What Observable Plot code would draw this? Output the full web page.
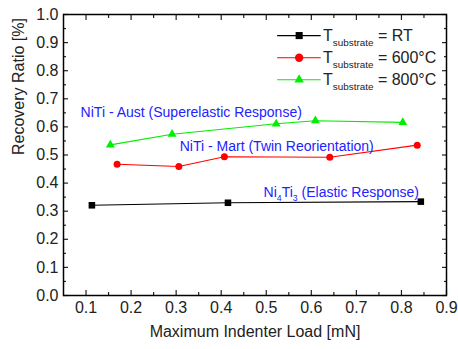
<!DOCTYPE html>
<html>
<head>
<meta charset="utf-8">
<script src="https://cdn.jsdelivr.net/npm/d3@7"></script>
<script src="https://cdn.jsdelivr.net/npm/@observablehq/plot@0.6"></script>
<style>
  body { margin: 0; background: #fff; }
  #chart svg { font-family: "Liberation Sans", Arial, sans-serif; }
  #chart g[aria-label="x-axis tick label"], #chart g[aria-label="y-axis tick label"] { font-size: 16px; }
</style>
</head>
<body>
<div id="chart"></div>
<script>
// Recovery ratio vs. maximum indenter load for three substrate temperatures
const loadRT = [0.113, 0.415, 0.843];
const ratioRT = [0.321, 0.330, 0.334];
const load600 = [0.169, 0.306, 0.407, 0.641, 0.835];
const ratio600 = [0.467, 0.459, 0.494, 0.492, 0.535];
const load800 = [0.154, 0.291, 0.522, 0.609, 0.803];
const ratio800 = [0.536, 0.574, 0.611, 0.622, 0.616];

const seriesNames = ["T_{substrate} = RT", "T_{substrate} = 600°C", "T_{substrate} = 800°C"];
const seriesColors = ["#000000", "#ff0000", "#00ee00"];
const seriesSymbols = ["square", "circle", "triangle"];

const xTicks = [0.1, 0.2, 0.3, 0.4, 0.5, 0.6, 0.7, 0.8, 0.9];
const xMinorTicks = [0.15, 0.25, 0.35, 0.45, 0.55, 0.65, 0.75, 0.85];
const yTicks = [0, 0.1, 0.2, 0.3, 0.4, 0.5, 0.6, 0.7, 0.8, 0.9, 1.0];
const yMinorTicks = [0.05, 0.15, 0.25, 0.35, 0.45, 0.55, 0.65, 0.75, 0.85, 0.95];

// Regime annotations (anchored at their left end, in data units)
const noteTexts = ["NiTi - Aust (Superelastic Response)", "NiTi - Mart (Twin Reorientation)", "Ni_{4}Ti_{3} (Elastic Response)"];
const noteLoads = [0.088, 0.308, 0.494];
const noteRatios = [0.650, 0.530, 0.366];

// Legend layout, in data units
const legendLineLoads = [0.525, 0.620];
const legendMarkerLoad = 0.573;
const legendTextLoad = 0.626;
const legendRatios = [0.925, 0.846, 0.768];

const series = [
  {name: seriesNames[0], load: loadRT, ratio: ratioRT, color: seriesColors[0], symbol: seriesSymbols[0], r: 3.7, lr: 4.0},
  {name: seriesNames[1], load: load600, ratio: ratio600, color: seriesColors[1], symbol: seriesSymbols[1], r: 3.5, lr: 4.2},
  {name: seriesNames[2], load: load800, ratio: ratio800, color: seriesColors[2], symbol: seriesSymbols[2], r: 3.3, lr: 3.5}
];

const notes = noteTexts.map((text, i) => ({text, x: noteLoads[i], y: noteRatios[i]}));

const marks = [
  // tick labels
  Plot.axisX(xTicks, {anchor: "bottom", tickSize: 0, tickPadding: 6, tickFormat: d3.format(".1f"), label: null}),
  Plot.axisY(yTicks, {anchor: "left", tickSize: 0, tickPadding: 5, tickFormat: d3.format(".1f"), label: null}),
  // inward tick marks on all four sides
  Plot.axisX(xTicks, {anchor: "bottom", tickSize: -5, fill: "none", strokeWidth: 1.2}),
  Plot.axisX(xMinorTicks, {anchor: "bottom", tickSize: -3, fill: "none", strokeWidth: 1.2}),
  Plot.axisX(xTicks, {anchor: "top", tickSize: -5, fill: "none", strokeWidth: 1.2}),
  Plot.axisX(xMinorTicks, {anchor: "top", tickSize: -3, fill: "none", strokeWidth: 1.2}),
  Plot.axisY(yTicks, {anchor: "left", tickSize: -5, fill: "none", strokeWidth: 1.2}),
  Plot.axisY(yMinorTicks, {anchor: "left", tickSize: -3, fill: "none", strokeWidth: 1.2}),
  Plot.axisY(yTicks, {anchor: "right", tickSize: -5, fill: "none", strokeWidth: 1.2}),
  Plot.axisY(yMinorTicks, {anchor: "right", tickSize: -3, fill: "none", strokeWidth: 1.2}),
  Plot.frame({stroke: "#000", strokeWidth: 1.5}),
  // axis titles
  Plot.text(["Recovery Ratio [%]"], {frameAnchor: "left", dx: -45, rotate: -90, fontSize: 16, fill: "#222"}),
  Plot.text(["Maximum Indenter Load [mN]"], {frameAnchor: "bottom", dy: 41, fontSize: 16, fill: "#222"})
];

for (const s of series) {
  const pts = s.load.map((x, i) => ({x, y: s.ratio[i]}));
  marks.push(Plot.line(pts, {x: "x", y: "y", stroke: s.color, strokeWidth: 1.1}));
  marks.push(Plot.dot(pts, {x: "x", y: "y", symbol: () => s.symbol, r: s.r, fill: s.color, stroke: "none"}));
}

// regime labels
marks.push(Plot.text(notes, {x: "x", y: "y", text: "text", textAnchor: "start", fill: "#2222ff", fontSize: 14}));

// legend
series.forEach((s, i) => {
  const row = legendRatios[i];
  marks.push(Plot.line(legendLineLoads.map(x => ({x, y: row})), {x: "x", y: "y", stroke: s.color, strokeWidth: 1.1}));
  marks.push(Plot.dot([{x: legendMarkerLoad, y: row}], {x: "x", y: "y", symbol: () => s.symbol, r: s.lr, fill: s.color, stroke: "none"}));
  marks.push(Plot.text([s.name], {x: () => legendTextLoad, y: () => row, textAnchor: "start", fontSize: 16, fill: "#222"}));
});

const chart = Plot.plot({
  width: 458,
  height: 349,
  marginLeft: 63,
  marginRight: 12,
  marginTop: 14,
  marginBottom: 54,
  style: {background: "white", color: "#222", fontFamily: "\"Liberation Sans\", Arial, sans-serif"},
  x: {domain: [0.05, 0.9]},
  y: {domain: [0, 1]},
  symbol: {type: "identity"},
  marks
});

document.getElementById("chart").appendChild(chart);

// Turn "_{...}" runs into subscripts
d3.select(chart).selectAll("text").each(function() {
  const t = this.textContent;
  if (!t.includes("_{")) return;
  const fs = parseFloat(getComputedStyle(this).fontSize) || 14;
  const shift = Math.round(fs * 0.3);
  const el = d3.select(this);
  el.text(null);
  let lowered = false;
  for (const part of t.split(/(_\{[^}]*\})/)) {
    if (!part) continue;
    const m = part.match(/^_\{([^}]*)\}$/);
    if (m) {
      el.append("tspan").attr("dy", lowered ? 0 : shift).attr("font-size", (fs * 0.62).toFixed(1)).text(m[1]);
      lowered = true;
    } else {
      el.append("tspan").attr("dy", lowered ? -shift : 0).text(part);
      lowered = false;
    }
  }
});
</script>
</body>
</html>
